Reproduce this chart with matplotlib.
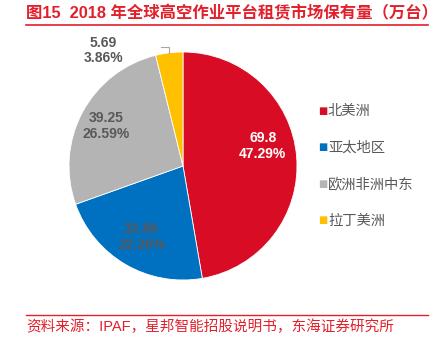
import numpy as np
import matplotlib
matplotlib.use("Agg")
import matplotlib.pyplot as plt
from matplotlib.lines import Line2D

# Installed base of aerial work platforms for rent, 2018 (10k units)
regions = ["北美洲", "亚太地区", "欧洲非洲中东", "拉丁美洲"]
values = [69.8, 32.86, 39.25, 5.69]
percents = ["47.29%", "22.26%", "26.59%", "3.86%"]
colors = ["#D80C24", "#0070C0", "#B4B4B4", "#FFC000"]

title = "图15  2018 年全球高空作业平台租赁市场保有量（万台）"
source = "资料来源：IPAF，星邦智能招股说明书，东海证券研究所"

FONTS = ["Liberation Sans", "Noto Sans CJK SC", "DejaVu Sans"]
plt.rcParams["font.family"] = FONTS

W, H = 445, 349
fig = plt.figure(figsize=(W / 100, H / 100), dpi=100)

RED = "#E2202C"
GRAY_TXT = "#595959"

# Title and rule
fig.text(26 / W, 1 - 13 / H, title, color=RED, fontsize=11.8, fontweight="bold",
         ha="left", va="center", family=["Liberation Sans", "Noto Sans CJK SC"])
fig.add_artist(Line2D([26 / W, 428 / W], [1 - 25 / H, 1 - 25 / H], color=RED, lw=1.2))

# Footer rule and source note
fig.add_artist(Line2D([26 / W, 428 / W], [1 - 315 / H, 1 - 315 / H], color=RED, lw=1.0))
fig.text(26 / W, 1 - 327 / H, source, color=RED, fontsize=10.5,
         ha="left", va="center", family=["Liberation Sans", "Noto Sans CJK SC"])

# Pie axes
cx, cy, r = 183, 166, 114
ax = fig.add_axes([(cx - r) / W, 1 - (cy + r) / H, 2 * r / W, 2 * r / H])
wedges, _ = ax.pie(values, colors=colors, startangle=90, counterclock=False,
                   radius=1.0, wedgeprops=dict(linewidth=0.6, edgecolor="white"))
ax.set_xlim(-1, 1)
ax.set_ylim(-1, 1)
ax.set_aspect("equal")
ax.axis("off")

# Value labels inside slices; the last slice gets an outside label with a leader
label_r = [0.72, 0.72, 0.76, None]
angle_shift = [9, 0, 1, 0]
label_colors = ["white", GRAY_TXT, GRAY_TXT, GRAY_TXT]
for i, w in enumerate(wedges):
    mid = np.deg2rad((w.theta1 + w.theta2) / 2 + angle_shift[i])
    txt = f"{values[i]:g}\n{percents[i]}"
    if label_r[i] is not None:
        x, y = label_r[i] * np.cos(mid), label_r[i] * np.sin(mid)
        ax.text(x, y, txt, ha="center", va="center", color=label_colors[i],
                fontsize=10, fontweight="bold", linespacing=1.15)
    else:
        ex, ey = np.cos(mid), np.sin(mid)
        ax.plot([ex, ex, ex - 0.07], [ey, ey + 0.055, ey + 0.055],
                color="#A6A6A6", lw=0.8, clip_on=False)
        ax.text(ex - 0.58, ey + 0.02, txt, ha="center", va="center",
                color=GRAY_TXT, fontsize=10, fontweight="bold",
                linespacing=1.15, clip_on=False)

# Legend
for i, name in enumerate(regions):
    y = 1 - (111 + 36.5 * i) / H
    fig.text(318 / W, y, "■", color=colors[i], fontsize=7, ha="left", va="center",
             family=["DejaVu Sans"])
    fig.text(328 / W, y, name, color=GRAY_TXT, fontsize=10.3, ha="left", va="center",
             family=["Noto Sans CJK SC"])

fig.savefig("out.png", dpi=100)
